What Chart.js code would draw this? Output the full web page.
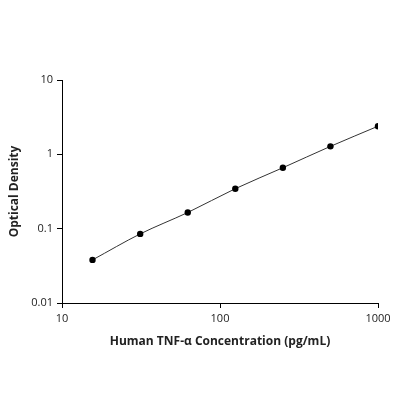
<!DOCTYPE html>
<html><head><script src="https://cdn.jsdelivr.net/npm/chart.js@4"></script>
<style>html,body{margin:0;padding:0;background:#fff}#w{width:400px;height:400px}</style></head>
<body><div id="w"><canvas id="c" width="400" height="400"></canvas></div>
<script>
const concentrations=[15.6,31.25,62.5,125,250,500,1000];
const opticalDensity=[0.038,0.085,0.165,0.345,0.66,1.28,2.39];
const xTicks=[10,100,1000];
const yTicks=[0.01,0.1,1,10];
const font={family:"'Open Sans','Liberation Sans',sans-serif",size:11};
new Chart(document.getElementById('c'),{
type:'line',
data:{datasets:[{data:concentrations.map((x,i)=>({x,y:opticalDensity[i]})),
borderColor:'#333',borderWidth:1,backgroundColor:'#000',pointRadius:3.2,pointBackgroundColor:'#000',pointBorderWidth:0,tension:0.4,cubicInterpolationMode:'monotone'}]},
options:{responsive:false,animation:false,
layout:{padding:{top:80,right:22,left:3,bottom:47}},
plugins:{legend:{display:false},tooltip:{enabled:false}},
scales:{
x:{type:'logarithmic',min:10,max:1000,
afterBuildTicks:s=>{s.ticks=xTicks.map(v=>({value:v}))},
afterFit:s=>{s.height=50},
grid:{drawOnChartArea:false,color:'#000',tickLength:5,lineWidth:1},border:{color:'#000'},
ticks:{color:'#222',font,callback:v=>String(v),maxRotation:0,padding:4},
title:{display:true,text:'Human TNF-α Concentration (pg/mL)',color:'#222',font:{family:font.family,size:12,weight:'bold'},padding:{top:12}}},
y:{type:'logarithmic',min:0.01,max:10,
afterBuildTicks:s=>{s.ticks=yTicks.map(v=>({value:v}))},
afterFit:s=>{s.width=59},
grid:{drawOnChartArea:false,color:'#000',tickLength:5,lineWidth:1},border:{color:'#000'},
ticks:{color:'#222',font,callback:v=>String(v),padding:4},
title:{display:true,text:'Optical Density',color:'#222',font:{family:font.family,size:12,weight:'bold'},padding:{bottom:2}}}
}}});
</script></body></html>
